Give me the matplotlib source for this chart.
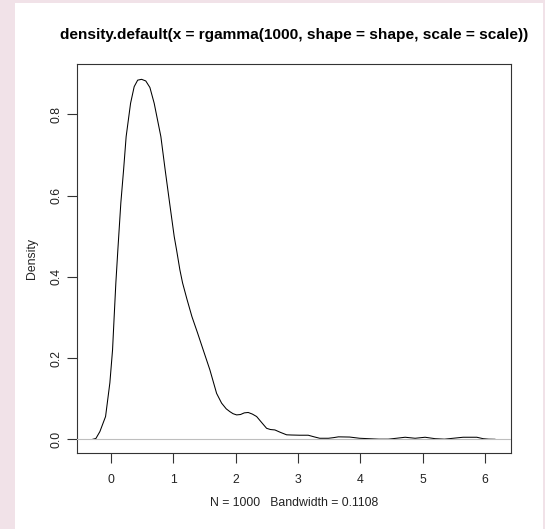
import matplotlib
matplotlib.use("Agg")
import matplotlib.pyplot as plt
from matplotlib.patches import Rectangle

plt.rcParams['font.family'] = ['Liberation Sans', 'DejaVu Sans']

# density estimate
dens_x = [-0.29, -0.24, -0.176, -0.085, -0.016, 0.027, 0.053, 0.080, 0.112, 0.160,
          0.204, 0.245, 0.316, 0.374, 0.43, 0.493, 0.56, 0.626, 0.695, 0.802,
          0.871, 0.942, 1.016, 1.054, 1.107, 1.150, 1.22, 1.30, 1.39, 1.481,
          1.588, 1.696, 1.776, 1.85, 1.909, 1.96, 2.017, 2.08, 2.14, 2.203,
          2.27, 2.338, 2.42, 2.498, 2.56, 2.631, 2.72, 2.819, 2.9, 3.03,
          3.165, 3.26, 3.35, 3.49, 3.57, 3.65, 3.83, 3.99, 4.13, 4.3,
          4.45, 4.58, 4.72, 4.88, 5.04, 5.20, 5.35, 5.49, 5.65, 5.87,
          5.97, 6.06, 6.16]
dens_y = [0.0, 0.002, 0.019, 0.056, 0.139, 0.22, 0.302, 0.385, 0.466, 0.582,
          0.663, 0.745, 0.827, 0.868, 0.884, 0.886, 0.882, 0.866, 0.827, 0.745,
          0.663, 0.582, 0.499, 0.466, 0.417, 0.385, 0.345, 0.302, 0.262, 0.220,
          0.171, 0.113, 0.089, 0.075, 0.068, 0.063, 0.060, 0.061, 0.065, 0.066,
          0.062, 0.056, 0.041, 0.027, 0.024, 0.023, 0.017, 0.011, 0.0105, 0.010,
          0.010, 0.006, 0.0025, 0.0025, 0.004, 0.006, 0.0055, 0.0025, 0.0015, 0.0003,
          0.0003, 0.0025, 0.005, 0.0025, 0.005, 0.0015, 0.0003, 0.0025, 0.005, 0.005,
          0.0015, 0.0003, 0.0]

x_ticks = [0, 1, 2, 3, 4, 5, 6]
x_labels = ['0', '1', '2', '3', '4', '5', '6']
y_ticks = [0.0, 0.2, 0.4, 0.6, 0.8]
y_labels = ['0.0', '0.2', '0.4', '0.6', '0.8']

title = 'density.default(x = rgamma(1000, shape = shape, scale = scale))'
xlab = 'N = 1000   Bandwidth = 0.1108'

W, H = 545, 529
fig = plt.figure(figsize=(W / 100, H / 100), dpi=100)
fig.patch.set_facecolor('#F1E2E8')
fig.patches.append(Rectangle((15 / W, 0), (543 - 15) / W, 1 - 3 / H,
                             transform=fig.transFigure, facecolor='white',
                             edgecolor='none', zorder=-5))

left, right, top, bottom = 76.7, 511, 64.3, 453.3
ax = fig.add_axes([left / W, 1 - bottom / H, (right - left) / W, (bottom - top) / H])
ax.set_zorder(5)
ax.set_facecolor('white')

ax.plot(dens_x, dens_y, color='black', lw=0.75, zorder=2)
ax.axhline(0, color='#BEBEBE', lw=0.8, zorder=3)

ax.set_xlim(-0.548, 6.418)
ax.set_ylim(-0.0345, 0.923)

ax.set_xticks(x_ticks)
ax.set_xticklabels(x_labels)
ax.set_yticks(y_ticks)
ax.set_yticklabels(y_labels, rotation=90, va='center')
ax.tick_params(axis='both', direction='out', length=7, width=0.8, color='#333333',
               labelsize=8.8, labelcolor='#222222')
ax.tick_params(axis='x', pad=8)
ax.tick_params(axis='y', pad=3.5)
for s in ax.spines.values():
    s.set_color('#333333')
    s.set_linewidth(0.8)

cx = (left + right) / 2 / W
fig.text(cx, 1 - 35 / H, title, ha='center', va='center', fontsize=11.1,
         fontweight='bold', color='black')
fig.text(cx, 1 - 503 / H, xlab, ha='center', va='center', fontsize=8.8, color='#222222')
fig.text(32 / W, 1 - (top + bottom) / 2 / H, 'Density', ha='center', va='center',
         rotation=90, fontsize=8.8, color='#222222')

fig.savefig('out.png', dpi=100)
